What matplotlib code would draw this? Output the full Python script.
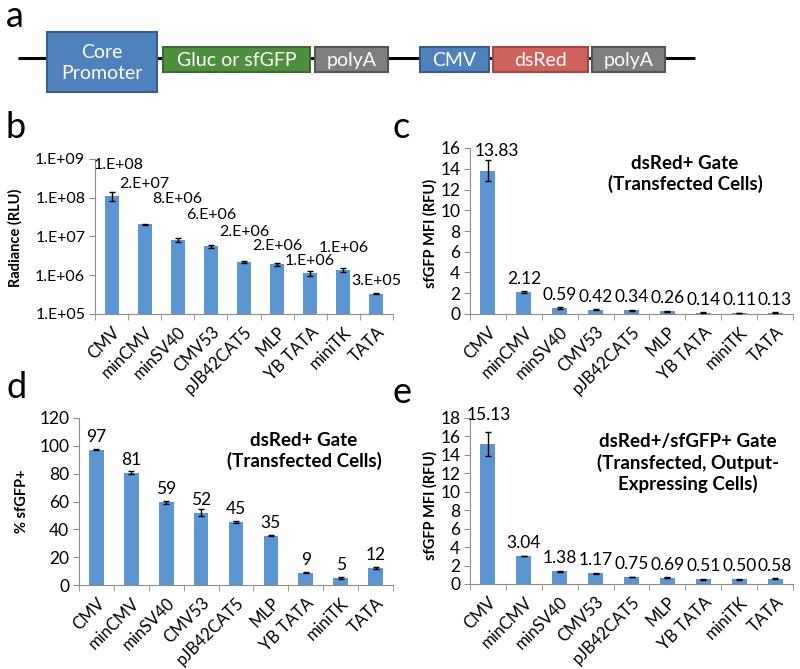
import numpy as np
import matplotlib
matplotlib.use('Agg')
import matplotlib.pyplot as plt
from matplotlib.patches import Rectangle
from matplotlib.ticker import FixedLocator, FuncFormatter, NullLocator
import matplotlib.transforms as mtransforms

plt.rcParams['font.family'] = ['Lato', 'DejaVu Sans']

promoters = ['CMV', 'minCMV', 'minSV40', 'CMV53', 'pJB42CAT5', 'MLP', 'YB TATA', 'miniTK', 'TATA']

# panel b - luciferase radiance
radiance = [1.1e8, 2.1e7, 8.3e6, 5.6e6, 2.2e6, 1.9e6, 1.15e6, 1.4e6, 3.3e5]
radiance_err = [2.7e7, 0.6e6, 1.0e6, 0.4e6, 0.08e6, 0.12e6, 0.17e6, 0.17e6, 0.1e5]
radiance_labels = ['1.E+08', '2.E+07', '8.E+06', '6.E+06', '2.E+06', '2.E+06', '1.E+06', '1.E+06', '3.E+05']

# panel c - sfGFP MFI, dsRed+ gate
mfi_dsred = [13.83, 2.12, 0.59, 0.42, 0.34, 0.26, 0.14, 0.11, 0.13]
mfi_dsred_err = [1.05, 0.05, 0.06, 0.04, 0.02, 0.02, 0.02, 0.03, 0.02]

# panel d - % sfGFP+
pct_gfp = [97.2, 80.8, 59.4, 52.0, 45.3, 35.4, 8.8, 5.0, 12.2]
pct_gfp_err = [0.3, 0.8, 1.3, 2.3, 0.5, 0.4, 0.3, 1.0, 0.5]

# panel e - sfGFP MFI, dsRed+/sfGFP+ gate
mfi_double = [15.13, 3.04, 1.38, 1.17, 0.75, 0.69, 0.51, 0.50, 0.58]
mfi_double_err = [1.3, 0.05, 0.06, 0.05, 0.04, 0.06, 0.03, 0.03, 0.03]

W, H = 800, 669
BAR = '#5b96d2'
SPINE = '#8c8c8c'

fig = plt.figure(figsize=(W / 100, H / 100), dpi=100)


def px_axes(x0, y0, x1, y1):
    return fig.add_axes([x0 / W, 1 - y1 / H, (x1 - x0) / W, (y1 - y0) / H])


def bar_panel(ax, values, errs, labels, label_dy, label_dx=None, log=False,
              tick_fs=12.5, label_fs=12.5):
    x = np.arange(len(promoters))
    if log:
        ax.set_yscale('log')
    ax.bar(x, values, width=0.42, color=BAR, zorder=2)
    ax.errorbar(x, values, yerr=errs, fmt='none', ecolor='black', elinewidth=1,
                capsize=2.5, capthick=1, zorder=3)
    ax.set_xlim(-0.5, len(promoters) - 0.5)
    ax.set_xticks(x)
    ax.set_xticklabels(promoters, rotation=45, ha='right', rotation_mode='anchor', fontsize=12)
    shift = mtransforms.ScaledTranslation(12 / 100, 0, fig.dpi_scale_trans)
    for t in ax.get_xticklabels():
        t.set_transform(t.get_transform() + shift)
    ax.set_xticks(np.arange(-0.5, len(promoters)), minor=True)
    ax.tick_params(axis='x', which='major', length=0, pad=7)
    ax.tick_params(axis='x', which='minor', length=4, color=SPINE)
    ax.tick_params(axis='y', which='major', length=4, color=SPINE, labelsize=tick_fs, pad=3)
    for s in ['top', 'right']:
        ax.spines[s].set_visible(False)
    for s in ['left', 'bottom']:
        ax.spines[s].set_color(SPINE)
    if label_dx is None:
        label_dx = [0] * len(values)
    for i, (v, lab) in enumerate(zip(values, labels)):
        ax.annotate(lab, (i, v), xytext=(label_dx[i] * 0.72, label_dy[i] * 0.72),
                    textcoords='offset points', ha='center', va='center', fontsize=label_fs)


# b
ax_b = px_axes(95, 159, 393, 314)
bar_panel(ax_b, radiance, radiance_err, radiance_labels,
          [31, 40, 41, 31, 30, 18, 12, 22, 13], [7, 0, 0, 0, 0, 0, 0, 0, 0], log=True,
          tick_fs=11.5, label_fs=11.5)
ax_b.set_ylim(1e5, 1e9)
ax_b.yaxis.set_major_locator(FixedLocator([1e5, 1e6, 1e7, 1e8, 1e9]))
ax_b.yaxis.set_major_formatter(FuncFormatter(lambda v, p: '1.E+%02d' % int(round(np.log10(v)))))
ax_b.yaxis.set_minor_locator(NullLocator())

# c
ax_c = px_axes(470, 148, 793, 314)
bar_panel(ax_c, mfi_dsred, mfi_dsred_err, ['%.2f' % v for v in mfi_dsred],
          [20] + [13] * 8, [9, 0, 0, 0, 0, 0, 0, 0, 0])
ax_c.set_ylim(0, 16)
ax_c.set_yticks(np.arange(0, 17, 2))

# d
ax_d = px_axes(79, 418, 393, 585)
bar_panel(ax_d, pct_gfp, pct_gfp_err, ['%d' % round(v) for v in pct_gfp], [13] * 9)
ax_d.set_ylim(0, 120)
ax_d.set_yticks(np.arange(0, 121, 20))

# e
ax_e = px_axes(470, 418, 793, 584)
bar_panel(ax_e, mfi_double, mfi_double_err, ['%.2f' % v for v in mfi_double],
          [29] + [13] * 8, [1, 0, 0, 0, 0, 0, 0, 0, 0])
ax_e.set_ylim(0, 18)
ax_e.set_yticks(np.arange(0, 19, 2))

# overlay in pixel coordinates: diagram, panel letters, titles, y labels
ov = fig.add_axes([0, 0, 1, 1], zorder=10)
ov.set_xlim(0, W)
ov.set_ylim(H, 0)
ov.axis('off')
ov.patch.set_visible(False)

ov.plot([18, 695], [58, 58], color='black', lw=2.2, zorder=1, solid_capstyle='butt')
boxes = [
    (47, 157, 32, 92, '#4f81bd', '#385d8a', 'Core\nPromoter'),
    (163, 310, 47, 72, '#4e8f3e', '#3a6b2e', 'Gluc or sfGFP'),
    (315, 388, 47, 72, '#7f7f7f', '#555555', 'polyA'),
    (420, 489, 47, 72, '#4f81bd', '#385d8a', 'CMV'),
    (493, 588, 47, 72, '#d0625c', '#a04843', 'dsRed'),
    (592, 665, 47, 72, '#7f7f7f', '#555555', 'polyA'),
]
for x0, x1, y0, y1, fc, ec, txt in boxes:
    ov.add_patch(Rectangle((x0, y0), x1 - x0, y1 - y0, facecolor=fc, edgecolor=ec, lw=1.5, zorder=2))
    ov.text((x0 + x1) / 2, (y0 + y1) / 2 + 1, txt, color='white', fontsize=14,
            ha='center', va='center', linespacing=1.3, zorder=3)

for letter, x, y in [('a', 6, 27), ('b', 6, 138), ('c', 392, 138), ('d', 6, 398), ('e', 392, 403)]:
    ov.text(x, y, letter, fontsize=26, ha='left', va='baseline')

ov.text(685, 174, 'dsRed+ Gate\n(Transfected Cells)', fontsize=13.5, fontweight='bold',
        ha='center', va='center', linespacing=1.2)
ov.text(304, 451, 'dsRed+ Gate\n(Transfected Cells)', fontsize=13.5, fontweight='bold',
        ha='center', va='center', linespacing=1.2)
ov.text(688, 463, 'dsRed+/sfGFP+ Gate\n(Transfected, Output-\nExpressing Cells)', fontsize=13.5,
        fontweight='bold', ha='center', va='center', linespacing=1.2)

for txt, x, y in [('Radiance (RLU)', 15, 238), ('sfGFP MFI (RFU)', 430, 233),
                  ('% sfGFP+', 22, 501), ('sfGFP MFI (RFU)', 430, 505)]:
    ov.text(x, y, txt, fontsize=10.5, fontweight='bold', rotation=90, ha='center', va='center')

fig.savefig('out.png', dpi=100)
